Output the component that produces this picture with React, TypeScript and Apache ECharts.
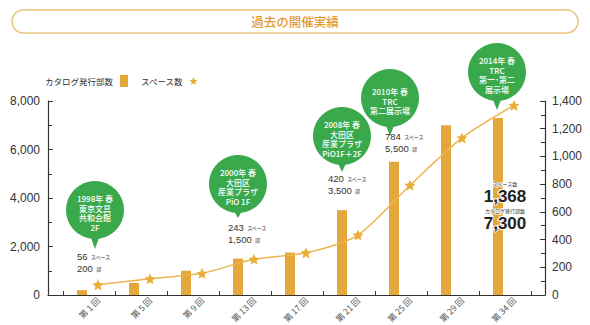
import React, { useEffect, useRef } from "react";
import * as echarts from "echarts";

// ---- data ----
const categories = ["第1回", "第5回", "第9回", "第13回", "第17回", "第21回", "第25回", "第29回", "第34回"];
const catalogCopies = [200, 500, 1000, 1500, 1750, 3500, 5500, 7000, 7300];
const spaceCounts = [56, 100, 140, 243, 290, 420, 784, 1130, 1368];
const leftAxisMax = 8000;
const leftAxisStep = 2000;
const rightAxisMax = 1400;
const rightAxisStep = 200;

const venueCategoryIndex = [0, 3, 5, 6, 8];
const venueTexts = [
  "1998年 春\n東京文具\n共和会館\n2F",
  "2000年 春\n大田区\n産業プラザ\nPiO 1F",
  "2008年 春\n大田区\n産業プラザ\nPiO1F＋2F",
  "2010年 春\nTRC\n第二展示場",
  "2014年 春\nTRC\n第一･第二\n展示場",
];
const valueLabelIndex = [0, 3, 5, 6];

// ---- annotation layout (pixels) ----
const bubbleCenters = [[95, 210], [238, 184], [342, 136], [390, 98], [497, 72]];
const bubbleTips = [249, 218, 172, 136, 110];
const bubbleRadius = 29;
const valueLabelPos = [[77, 262], [228, 233], [328, 184], [385, 142]];

const STAR = "path://M12 1.5l3.1 6.9 7.4.7-5.6 5 1.7 7.4L12 17.6 5.4 21.5l1.7-7.4-5.6-5 7.4-.7z";
const BAR = "#e3a73a";
const LINE = "#ebb54c";
const GREEN = "#3aa94c";
const FONT = "'Liberation Sans', 'Noto Sans CJK JP', sans-serif";
const JP = "'Noto Sans CJK JP', sans-serif";

const fmt = (v: number) => v.toLocaleString("en-US");

export default function App() {
  const ref = useRef<HTMLDivElement>(null);
  useEffect(() => {
    if (!ref.current) return;
    const chart = echarts.init(ref.current, undefined, { renderer: "svg" });

    const gTop = 101;
    const gBottom = 30;

    const graphic: any[] = [
      {
        type: "rect",
        shape: { x: 12, y: 10, width: 566, height: 23, r: 11.5 },
        style: { fill: "#fff", stroke: "#e9c47e", lineWidth: 1.5 },
        z: 100,
      },
      {
        type: "text",
        x: 295,
        y: 21.5,
        style: {
          text: "過去の開催実績",
          fill: "#e39a2c",
          font: `500 12.5px ${JP}`,
          align: "center",
          verticalAlign: "middle",
        },
        z: 101,
      },
    ];

    venueTexts.forEach((t, i) => {
      const [cx, cy] = bubbleCenters[i];
      graphic.push({
        type: "polygon",
        shape: { points: [[cx - 5, cy + bubbleRadius - 4], [cx + 5, cy + bubbleRadius - 4], [cx, bubbleTips[i]]] },
        style: { fill: GREEN },
        z: 100,
      });
      graphic.push({
        type: "circle",
        shape: { cx, cy, r: bubbleRadius },
        style: { fill: GREEN },
        z: 100,
      });
      graphic.push({
        type: "text",
        x: cx,
        y: cy + 3,
        style: {
          text: t,
          fill: "#fff",
          font: `500 8px ${JP}`,
          lineHeight: 9.5,
          align: "center",
          verticalAlign: "middle",
        },
        z: 101,
      });
    });

    valueLabelIndex.forEach((ci, i) => {
      const [x, y] = valueLabelPos[i];
      graphic.push({
        type: "text",
        x,
        y,
        style: {
          text: `{n|${spaceCounts[ci]}} {s|スペース}\n{n|${fmt(catalogCopies[ci])}} {s|部}`,
          rich: {
            n: { font: `9.5px ${FONT}`, fill: "#333", lineHeight: 10.5 },
            s: { font: `5px ${JP}`, fill: "#333", lineHeight: 10.5 },
          },
          verticalAlign: "middle",
        },
        z: 101,
      });
    });

    const last = categories.length - 1;
    const ox = 505;
    graphic.push(
      {
        type: "text", x: ox, y: 183,
        style: { text: "スペース数", font: `5px ${JP}`, fill: "#333", align: "center", verticalAlign: "middle", stroke: "#fff", lineWidth: 1.5 },
        z: 101,
      },
      {
        type: "text", x: ox, y: 196.5,
        style: { text: fmt(spaceCounts[last]), font: `bold 17px ${FONT}`, fill: "#222", align: "center", verticalAlign: "middle", stroke: "#fff", lineWidth: 2 },
        z: 101,
      },
      {
        type: "text", x: ox, y: 210,
        style: { text: "カタログ発行部数", font: `5px ${JP}`, fill: "#333", align: "center", verticalAlign: "middle", stroke: "#fff", lineWidth: 1.5 },
        z: 101,
      },
      {
        type: "text", x: ox, y: 223.5,
        style: { text: fmt(catalogCopies[last]), font: `bold 17px ${FONT}`, fill: "#222", align: "center", verticalAlign: "middle", stroke: "#fff", lineWidth: 2 },
        z: 101,
      }
    );

    const option: any = {
      animation: false,
      textStyle: { fontFamily: FONT },
      legend: {
        left: 40,
        top: 70,
        align: "right",
        itemGap: 12,
        itemWidth: 8,
        itemHeight: 12,
        textStyle: { fontFamily: JP, fontSize: 8.5, color: "#333", padding: [0, 2, 0, 0] },
        data: [
          { name: "カタログ発行部数", icon: "rect" },
          { name: "スペース数", icon: STAR },
        ],
      },
      grid: [
        { left: 63, right: 59, top: gTop, bottom: gBottom },
        { left: 48, right: 45, top: gTop, bottom: gBottom },
        { left: 56, right: 66, top: gTop, bottom: gBottom },
        { left: 72, right: 50, top: gTop, bottom: gBottom },
      ],
      xAxis: [
        {
          gridIndex: 0,
          type: "category",
          data: categories,
          boundaryGap: true,
          axisLine: { show: false },
          axisTick: { show: true, inside: true, length: 4, lineStyle: { color: "#333" } },
          axisLabel: { show: false },
        },
        {
          gridIndex: 1,
          type: "value",
          min: 0,
          max: 1,
          axisLine: { show: true, lineStyle: { color: "#333", width: 1.2 } },
          axisTick: { show: false },
          axisLabel: { show: false },
          splitLine: { show: false },
        },
        {
          gridIndex: 2,
          type: "category",
          data: categories,
          show: false,
        },
        {
          gridIndex: 3,
          type: "category",
          data: categories,
          axisLine: { show: false },
          axisTick: { show: false },
          axisLabel: {
            show: true,
            rotate: 45,
            margin: 6,
            fontFamily: JP,
            fontSize: 8.5,
            color: "#555",
            formatter: (v: string) => v.replace(/(\d+)/, " $1 "),
          },
        },
      ],
      yAxis: [
        {
          gridIndex: 0,
          type: "value",
          min: 0,
          max: leftAxisMax,
          interval: leftAxisStep,
          offset: 15,
          axisLine: { show: true, lineStyle: { color: "#333", width: 1.2 } },
          axisTick: { show: true, inside: true, length: 5, lineStyle: { color: "#333" } },
          minorTick: { show: true, splitNumber: 2, length: 4, lineStyle: { color: "#333" } },
          axisLabel: { formatter: (v: number) => fmt(v), fontSize: 12, color: "#333", margin: 8 },
          splitLine: { show: false },
        },
        {
          gridIndex: 0,
          type: "value",
          position: "right",
          min: 0,
          max: rightAxisMax,
          interval: rightAxisStep,
          offset: 14,
          axisLine: { show: true, lineStyle: { color: "#333", width: 1.2 } },
          axisTick: { show: true, inside: true, length: 5, lineStyle: { color: "#333" } },
          minorTick: { show: true, splitNumber: 2, length: 4, lineStyle: { color: "#333" } },
          axisLabel: { formatter: (v: number) => fmt(v), fontSize: 12, color: "#333", margin: 7 },
          splitLine: { show: false },
        },
        { gridIndex: 1, type: "value", show: false, min: 0, max: 1 },
        { gridIndex: 2, type: "value", show: false, min: 0, max: leftAxisMax },
        { gridIndex: 3, type: "value", show: false, min: 0, max: rightAxisMax },
      ],
      series: [
        {
          name: "カタログ発行部数",
          type: "bar",
          xAxisIndex: 2,
          yAxisIndex: 3,
          data: catalogCopies,
          barWidth: 10,
          itemStyle: { color: BAR },
          z: 3,
        },
        {
          name: "スペース数",
          type: "line",
          xAxisIndex: 3,
          yAxisIndex: 4,
          data: spaceCounts,
          smooth: 0.25,
          symbol: STAR,
          symbolSize: 11,
          lineStyle: { color: LINE, width: 1.5 },
          itemStyle: { color: "#e9ad38" },
          z: 4,
        },
      ],
      graphic,
    };

    chart.setOption(option);
    return () => chart.dispose();
  }, []);

  return (
    <div
      ref={ref}
      style={{ position: "fixed", left: 0, top: 0, width: 590, height: 325, background: "#fff" }}
    />
  );
}
